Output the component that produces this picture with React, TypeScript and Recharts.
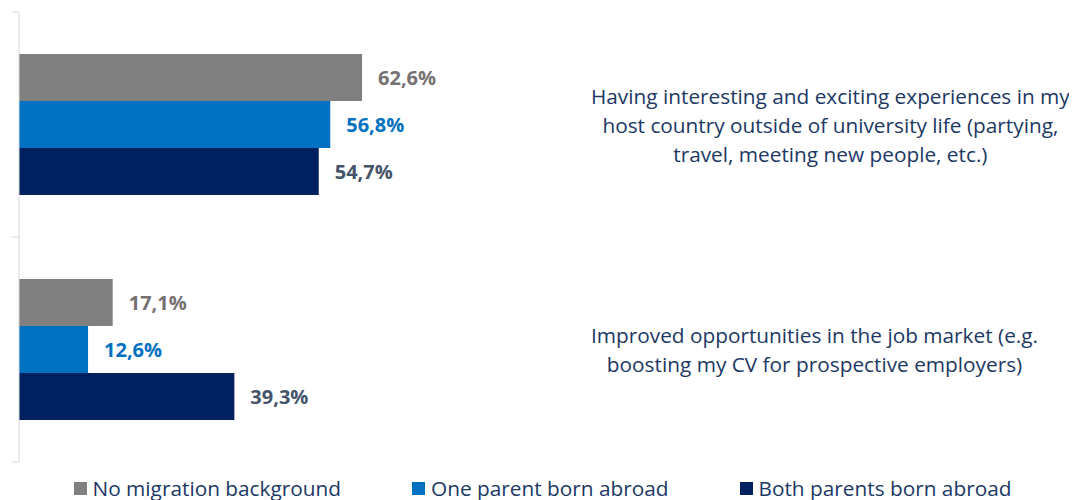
import React from 'react';
import { BarChart, Bar, XAxis, YAxis, Legend, LabelList } from 'recharts';

const categories = [
  'Having interesting and exciting experiences in my host country outside of university life (partying, travel, meeting new people, etc.)',
  'Improved opportunities in the job market (e.g. boosting my CV for prospective employers)',
];
const categoryLines: string[][] = [
  [
    'Having interesting and exciting experiences in my',
    'host country outside of university life (partying,',
    'travel, meeting new people, etc.)',
  ],
  ['Improved opportunities in the job market (e.g.', 'boosting my CV for prospective employers)'],
];
const noMigration = [62.6, 17.1];
const oneParent = [56.8, 12.6];
const bothParents = [54.7, 39.3];
const seriesNames = ['No migration background', 'One parent born abroad', 'Both parents born abroad'];

const data = categories.map((name, i) => ({
  name,
  a: noMigration[i],
  b: oneParent[i],
  c: bothParents[i],
}));

const FONT = '"Open Sans", sans-serif';
const BAR_COLORS = ['#808080', '#0070C0', '#002060'];
const LABEL_COLORS = ['#767171', '#0070C0', '#44546A'];
const TEXT_COLOR = '#203864';
const AXIS_COLOR = '#D9D9D9';
const CAT_FONT_SIZE = 20.8;

let ctx: CanvasRenderingContext2D | null = null;
function measure(t: string) {
  if (!ctx) ctx = document.createElement('canvas').getContext('2d');
  if (!ctx) return t.length * 10;
  ctx.font = `${CAT_FONT_SIZE}px ${FONT}`;
  return ctx.measureText(t).width;
}

const fmt = (v: number) => v.toFixed(1).replace('.', ',') + '%';

const CatTick = (props: any) => {
  const { x, y, payload } = props;
  const idx = categories.indexOf(payload.value);
  const lines = categoryLines[idx] || [payload.value];
  const blockW = Math.max(...lines.map(measure));
  const cx = x + 24 + blockW / 2;
  return (
    <g>
      {lines.map((l, i) => (
        <text
          key={i}
          x={cx}
          y={y + (i - (lines.length - 1) / 2) * 29}
          textAnchor="middle"
          dominantBaseline="central"
          fontSize={CAT_FONT_SIZE}
          fontFamily={FONT}
          fill={TEXT_COLOR}
        >
          {l}
        </text>
      ))}
    </g>
  );
};

// Tick marks at the category boundaries (Excel style), drawn outward from the axis line.
const FrameTick = (props: any) => {
  const { x, y, payload } = props;
  const half = payload && payload.offset ? payload.offset : 0;
  const isLast = payload && payload.value === categories[categories.length - 1];
  const ys = isLast ? [y - half, y + half] : [y - half];
  return (
    <g>
      {ys.map((yy, i) => (
        <line key={i} x1={x - 7} x2={x} y1={yy} y2={yy} stroke={AXIS_COLOR} strokeWidth={1} />
      ))}
    </g>
  );
};

const LegendContent = () => (
  <div
    style={{
      height: 38,
      boxSizing: 'border-box',
      paddingTop: 14,
      display: 'flex',
      justifyContent: 'center',
      gap: 71,
      fontFamily: FONT,
      fontSize: 20.8,
      lineHeight: '24px',
      color: TEXT_COLOR,
    }}
  >
    {seriesNames.map((n, i) => (
      <div key={n} style={{ display: 'flex', alignItems: 'center', whiteSpace: 'nowrap' }}>
        <span style={{ width: 13, height: 13, background: BAR_COLORS[i], marginRight: 6, display: 'inline-block' }} />
        <span>{n}</span>
      </div>
    ))}
  </div>
);

export default function App() {
  const keys = ['a', 'b', 'c'];
  return (
    <BarChart
      width={1069}
      height={492}
      data={data}
      layout="vertical"
      margin={{ top: 4, right: 0, left: 0, bottom: 0 }}
      barCategoryGap="18.7%"
      barGap={0}
    >
      <XAxis type="number" domain={[0, 100]} hide />
      <YAxis
        yAxisId="cat"
        type="category"
        dataKey="name"
        orientation="left"
        width={11}
        interval={0}
        tick={<FrameTick />}
        tickSize={0}
        tickMargin={0}
        tickLine={false}
        axisLine={{ stroke: AXIS_COLOR }}
      />
      <YAxis
        yAxisId="labels"
        type="category"
        dataKey="name"
        orientation="right"
        width={510}
        axisLine={false}
        tickLine={false}
        tickSize={0}
        tickMargin={0}
        tick={<CatTick />}
        interval={0}
      />
      {keys.map((k, i) => (
        <Bar key={k} dataKey={k} name={seriesNames[i]} yAxisId="cat" fill={BAR_COLORS[i]} isAnimationActive={false}>
          <LabelList
            dataKey={k}
            position="right"
            offset={16}
            formatter={(v: any) => fmt(Number(v))}
            fill={LABEL_COLORS[i]}
            fontSize={20}
            fontWeight="bold"
            fontFamily={FONT}
          />
        </Bar>
      ))}
      <Legend verticalAlign="bottom" content={<LegendContent />} />
    </BarChart>
  );
}
